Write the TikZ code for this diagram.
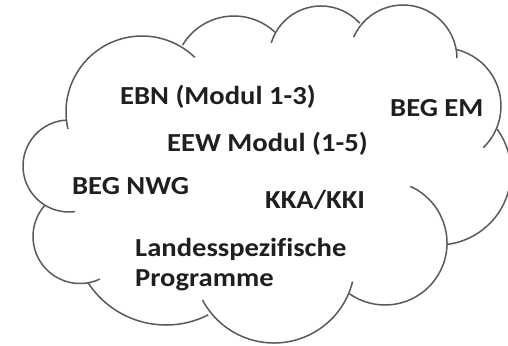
\documentclass[tikz,border=0pt]{standalone}
\usepackage{fontspec}
\newfontfamily\cloudfont{Carlito}[FakeStretch=1.1, Ligatures=NoCommon]
\usetikzlibrary{positioning}

\tikzset{
  cloudline/.style={draw=black!65, line width=1.5pt},
  lbl/.style={font=\cloudfont\bfseries\fontsize{26}{30}\selectfont,
    text=black!88, inner sep=0pt, anchor=base west},
}

\begin{document}
\begin{tikzpicture}[x=1pt,y=1pt]
  \clip (0,0) rectangle (508,345);

  % cloud: one arc per bump (centre x / centre y / radius / start / end)
  \foreach \cx/\cy/\rad/\sa/\ea in {142/233/76/193/46, 234/269/60/149/47,
      321/287/52/163/42, 403/286/54/156/1, 443/239/58/76/-46,
      438/173/73/36/-83, 385/102/62/66/-125, 274/83/81/-14/-152,
      166/113/93/-63/-147, 80/108.5/47/138/295, 69/179/46/92.5/277.4}
    \draw[cloudline] (\cx,\cy) ++(\sa:\rad pt)
      arc[start angle=\sa, end angle=\ea, radius=\rad pt];

  \node[lbl] (ebn)  at (120,240) {EBN (Modul 1-3)};
  \node[lbl] (em)   at (390,228) {BEG EM};
  \node[lbl] (eew)  at (167,193) {EEW Modul (1-5)};
  \node[lbl] (nwg)  at (72,150)  {BEG NWG};
  \node[lbl] (kka)  at (265,136) {KKA/KKI};
  \node[lbl] (land) at (135,88)  {Landesspezifische};
  \node[lbl] (prog) at ([yshift=-30pt]land.base west) {Programme};
\end{tikzpicture}
\end{document}
